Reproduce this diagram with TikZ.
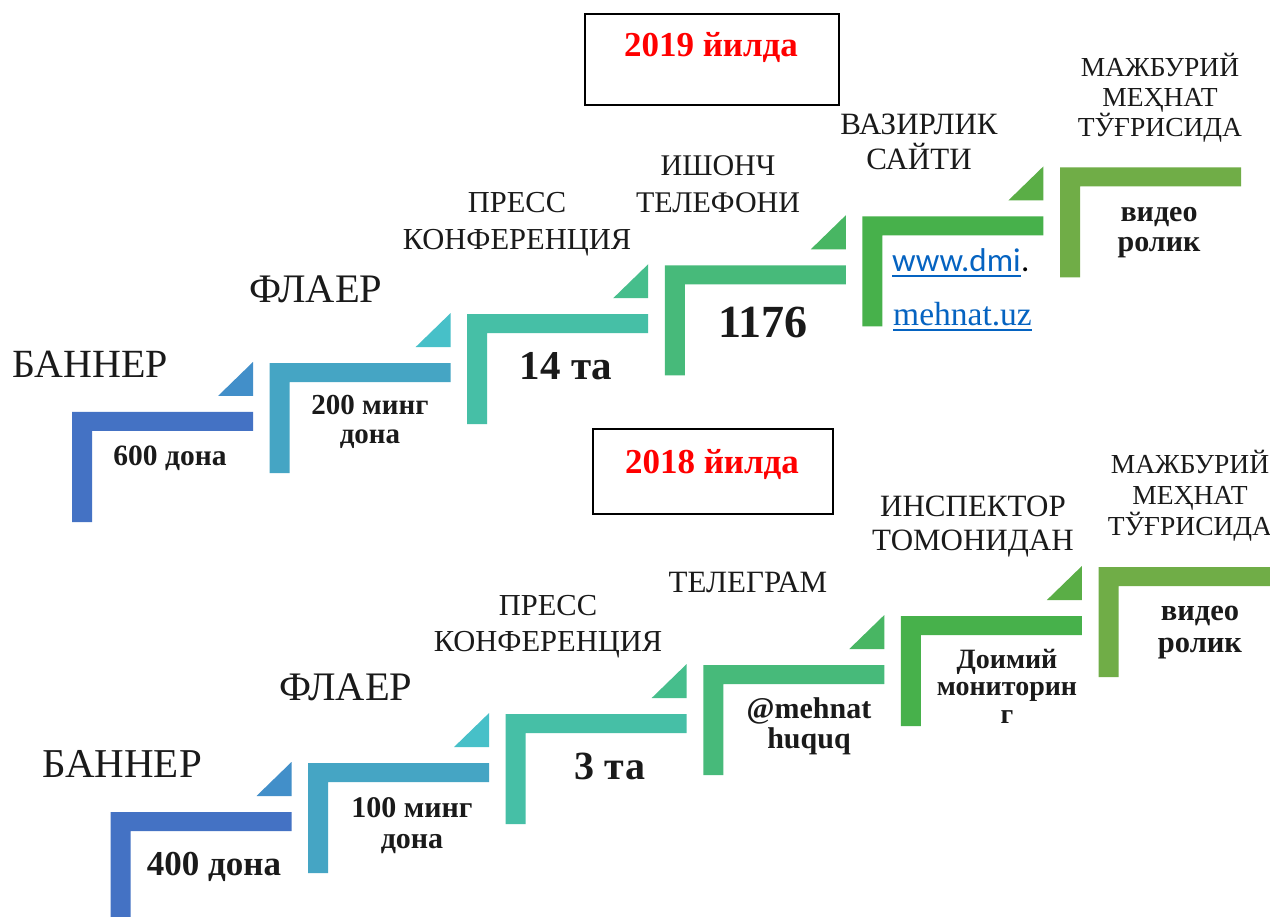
\documentclass[tikz,border=0pt]{standalone}
\usepackage{fontspec}
\setmainfont{Liberation Serif}
\newfontfamily\linkfont{Carlito}
\newcommand\fsz[1]{\fontsize{#1}{#1}\selectfont}
\definecolor{barA}{HTML}{4472C4}
\definecolor{triA}{HTML}{428FC9}
\definecolor{barB}{HTML}{45A5C4}
\definecolor{triB}{HTML}{47C0C8}
\definecolor{barC}{HTML}{46BFA6}
\definecolor{triC}{HTML}{46BE8C}
\definecolor{barD}{HTML}{47BA7A}
\definecolor{triD}{HTML}{48B663}
\definecolor{barE}{HTML}{47B14B}
\definecolor{triE}{HTML}{5AAE46}
\definecolor{barF}{HTML}{70AD47}
\definecolor{linkblue}{HTML}{0563C1}
\definecolor{yearred}{HTML}{FF0000}
\definecolor{ink}{HTML}{1A1A1A}
\newcommand\stairbar[3]{%
  \fill[#3] (#1,#2) -- ++(181,0) -- ++(0,19) -- ++(-161,0) -- ++(0,91) -- ++(-20,0) -- cycle;}
\newcommand\stairtri[3]{%
  \fill[#3] (#1+146,#2-16) -- ++(35,0) -- ++(0,-34) -- cycle;}
\tikzset{
  head/.style={anchor=base, inner sep=0pt, text=ink},
  val/.style={anchor=base, inner sep=0pt, text=ink, font=\bfseries},
  yearbox/.style={draw=black, line width=1.8pt, anchor=north west, inner sep=0pt},
  yeartxt/.style={anchor=base, inner sep=0pt, text=yearred, font=\bfseries\fsz{35}},
  link/.style={anchor=base west, inner sep=0pt, text=linkblue},
  uline/.style={linkblue, line width=1.8pt}
}
\begin{document}
\begin{tikzpicture}[x=1pt,y=-1pt]
\useasboundingbox (0,0) rectangle (1270,917);
\clip (0,0) rectangle (1270,917);
\fill[white] (0,0) rectangle (1270,917);

% ---------- 2019 staircase ----------
\stairbar{72}{412}{barA}     \stairtri{72}{412}{triA}
\stairbar{269.6}{363.1}{barB} \stairtri{269.6}{363.1}{triB}
\stairbar{467.2}{314.2}{barC} \stairtri{467.2}{314.2}{triC}
\stairbar{664.8}{265.3}{barD} \stairtri{664.8}{265.3}{triD}
\stairbar{862.4}{216.4}{barE} \stairtri{862.4}{216.4}{triE}
\stairbar{1060}{167.5}{barF}

% ---------- 2018 staircase ----------
\stairbar{110.5}{812}{barA}   \stairtri{110.5}{812}{triA}
\stairbar{308.1}{763}{barB}   \stairtri{308.1}{763}{triB}
\stairbar{505.7}{714}{barC}   \stairtri{505.7}{714}{triC}
\stairbar{703.3}{665}{barD}   \stairtri{703.3}{665}{triD}
\stairbar{900.9}{616}{barE}   \stairtri{900.9}{616}{triE}
\stairbar{1098.5}{567}{barF}

% ---------- year boxes ----------
\node[yearbox, minimum width=254pt, minimum height=91pt] (box19) at (584,13) {};
\node[yeartxt] (y19) at (711,57) {2019 йилда};
\node[yearbox, minimum width=240pt, minimum height=85pt] (box18) at (592,428) {};
\node[yeartxt] (y18) at (712,473) {2018 йилда};

% ---------- 2019 headings ----------
\node[head, font=\fsz{40}] (t1) at (90,378) {БАННЕР};
\node[head, font=\fsz{40.5}] (t2) at (316,303) {ФЛАЕР};
\node[head, font=\fsz{30.5}] (t3a) at (517,213) {ПРЕСС};
\node[head, font=\fsz{30.5}] (t3b) at (517,250) {КОНФЕРЕНЦИЯ};
\node[head, font=\fsz{30}] (t4a) at (718,176) {ИШОНЧ};
\node[head, font=\fsz{30}] (t4b) at (718,213) {ТЕЛЕФОНИ};
\node[head, font=\fsz{31}] (t5a) at (919,135) {ВАЗИРЛИК};
\node[head, font=\fsz{31}] (t5b) at (919,170) {САЙТИ};
\node[head, font=\fsz{27.5}] (t6a) at (1160,77) {МАЖБУРИЙ};
\node[head, font=\fsz{27.5}] (t6b) at (1160,107) {МЕҲНАТ};
\node[head, font=\fsz{27.5}] (t6c) at (1160,137) {ТЎҒРИСИДА};

% ---------- 2019 values ----------
\node[val, font=\bfseries\fsz{29.5}] (v1) at (170,465) {600 дона};
\node[val, font=\bfseries\fsz{29}] (v2a) at (370,415) {200 минг};
\node[val, font=\bfseries\fsz{29}] (v2b) at (370,443) {дона};
\node[val, font=\bfseries\fsz{41}] (v3) at (566,380) {14 та};
\node[val, font=\bfseries\fsz{46}] (v4) at (763,338) {1176};
\node[link, font=\linkfont\fsz{33}] (w1) at (892,272) {www.dmi};
\node[anchor=base west, inner sep=0pt, font=\linkfont\fsz{33}] (w1dot) at (w1.base east) {.};
\node[link, font=\fsz{33.5}] (w2) at (893,326) {mehnat.uz};
\draw[uline] ([yshift=-4pt]w1.base west) -- ([yshift=-4pt]w1.base east);
\draw[uline] ([yshift=-4pt]w2.base west) -- ([yshift=-4pt]w2.base east);
\node[val, font=\bfseries\fsz{30}] (v6a) at (1159,222) {видео};
\node[val, font=\bfseries\fsz{30}] (v6b) at (1159,252) {ролик};

% ---------- 2018 headings ----------
\node[head, font=\fsz{41}] (s1) at (122,777) {БАННЕР};
\node[head, font=\fsz{40.5}] (s2) at (346,700) {ФЛАЕР};
\node[head, font=\fsz{30.5}] (s3a) at (548,615) {ПРЕСС};
\node[head, font=\fsz{30.5}] (s3b) at (548,651) {КОНФЕРЕНЦИЯ};
\node[head, font=\fsz{31}] (s4) at (748,592) {ТЕЛЕГРАМ};
\node[head, font=\fsz{31}] (s5a) at (973,516) {ИНСПЕКТОР};
\node[head, font=\fsz{31}] (s5b) at (973,550) {ТОМОНИДАН};
\node[head, font=\fsz{27.5}] (s6a) at (1190,473) {МАЖБУРИЙ};
\node[head, font=\fsz{27.5}] (s6b) at (1190,504) {МЕҲНАТ};
\node[head, font=\fsz{27.5}] (s6c) at (1190,535) {ТЎҒРИСИДА};

% ---------- 2018 values ----------
\node[val, font=\bfseries\fsz{35}] (u1) at (214,875) {400 дона};
\node[val, font=\bfseries\fsz{30}] (u2a) at (412,817) {100 минг};
\node[val, font=\bfseries\fsz{30}] (u2b) at (412,848) {дона};
\node[val, font=\bfseries\fsz{40}] (u3) at (610,779) {3 та};
\node[val, font=\bfseries\fsz{30}] (u4a) at (809,718) {@mehnat};
\node[val, font=\bfseries\fsz{30}] (u4b) at (809,748) {huquq};
\node[val, font=\bfseries\fsz{28}] (u5a) at (1007,668) {Доимий};
\node[val, font=\bfseries\fsz{28}] (u5b) at (1007,695) {мониторин};
\node[val, font=\bfseries\fsz{28}] (u5c) at (1007,723) {г};
\node[val, font=\bfseries\fsz{30.5}] (u6a) at (1200,620) {видео};
\node[val, font=\bfseries\fsz{30.5}] (u6b) at (1200,652) {ролик};
\end{tikzpicture}
\end{document}
